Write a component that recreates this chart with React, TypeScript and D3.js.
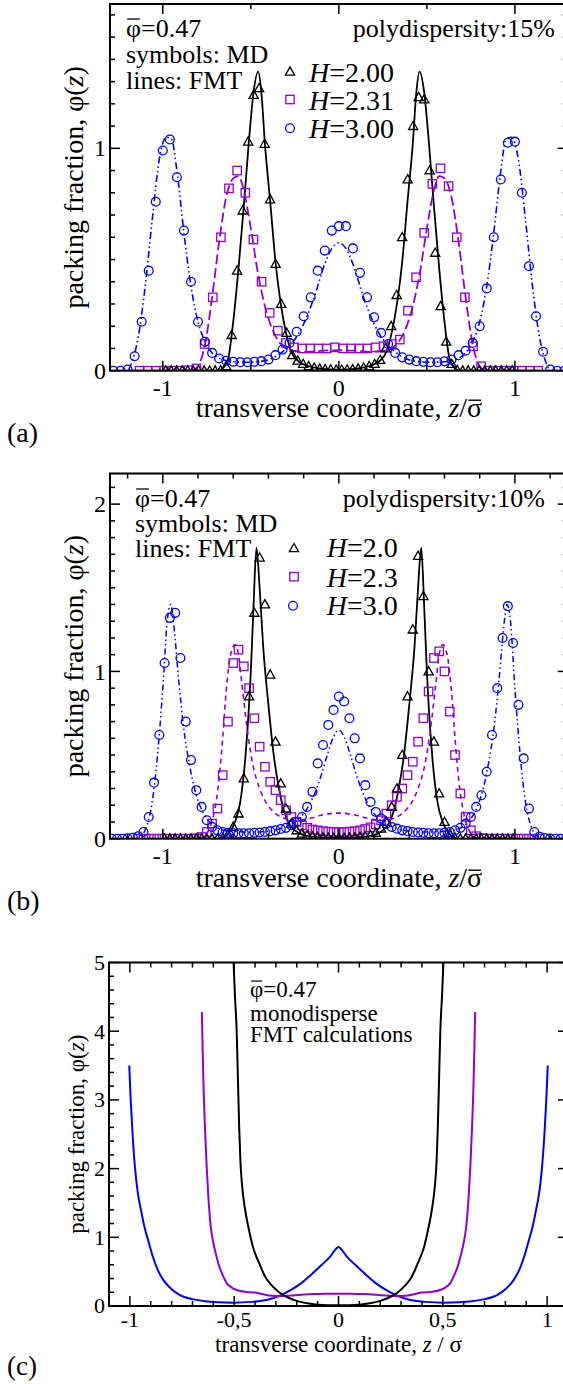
import React from "react";
import * as d3 from "d3";

type Pt = [number, number];

// ================= Panel (a): polydispersity 15 % =================
// MD histograms: bin start, bin width, values
const aTriStart = -0.984;
const aTriStep = 0.03125;
const aTriH200 = [
  0, 0, 0, 0, 0, 0, 0, 0, 0, 0,
  0.002, 0.02, 0.16, 0.45, 0.72, 1.03, 1.24, 1.27, 1.02, 0.77, 0.48, 0.3, 0.17, 0.07, 0.045, 0.03, 0.02, 0.013, 0.009, 0.006, 0.005, 0.004,
  0.004, 0.005, 0.006, 0.009, 0.013, 0.02, 0.03, 0.048, 0.1, 0.2, 0.34, 0.6, 0.86, 1.1, 1.23, 1.22, 0.9, 0.53, 0.29, 0.13, 0.03, 0.003,
  0, 0, 0, 0, 0, 0, 0, 0, 0, 0,
];
const aSqStart = -1.132;
const aSqStep = 0.0462;
const aSqH231 = [
  0, 0, 0, 0, 0, 0, 0.002, 0.01, 0.12, 0.33, 0.6, 0.82, 0.9, 0.8, 0.59, 0.4, 0.26, 0.18, 0.125, 0.105, 0.1, 0.1, 0.1, 0.1, 0.105,
  0.1, 0.1, 0.1, 0.1, 0.105, 0.11, 0.12, 0.14, 0.27, 0.42, 0.62, 0.84, 0.91, 0.83, 0.6, 0.33, 0.11, 0.02, 0, 0, 0, 0, 0, 0, 0,
];
const aCirStart = -1.28;
const aCirStep = 0.04;
const aCirH300 = [
  0, 0, 0.005, 0.065, 0.22, 0.45, 0.76, 0.99, 1.04, 0.87, 0.63, 0.4, 0.22, 0.13, 0.08, 0.055, 0.045, 0.04, 0.038, 0.038, 0.04, 0.043, 0.05,
  0.07, 0.095, 0.125, 0.175, 0.245, 0.33, 0.45, 0.54, 0.63, 0.65,
  0.65, 0.55, 0.44, 0.33, 0.24, 0.17, 0.12, 0.08, 0.06, 0.05, 0.043, 0.04, 0.038, 0.038, 0.042, 0.05, 0.07, 0.09, 0.125, 0.2, 0.37, 0.6,
  0.86, 1.025, 1.03, 0.8, 0.47, 0.245, 0.085, 0.005, 0, 0,
];
// FMT curves
const aLineH200: Pt[] = [
  [-1, 0], [-0.69, 0], [-0.66, 0.01], [-0.63, 0.05], [-0.6, 0.22], [-0.57, 0.46], [-0.54, 0.74], [-0.51, 1.04], [-0.485, 1.25],
  [-0.458, 1.345], [-0.44, 1.25], [-0.42, 1.02], [-0.39, 0.76], [-0.36, 0.49], [-0.33, 0.3], [-0.3, 0.17], [-0.27, 0.085],
  [-0.24, 0.05], [-0.21, 0.032], [-0.17, 0.02], [-0.12, 0.011], [-0.06, 0.006], [0, 0.005],
  [0.06, 0.006], [0.12, 0.011], [0.17, 0.02], [0.21, 0.032], [0.24, 0.05], [0.27, 0.085], [0.3, 0.17], [0.33, 0.3], [0.36, 0.49],
  [0.39, 0.76], [0.42, 1.02], [0.44, 1.25], [0.458, 1.345], [0.485, 1.25], [0.51, 1.04], [0.54, 0.74], [0.57, 0.46], [0.6, 0.22],
  [0.63, 0.05], [0.66, 0.01], [0.69, 0], [1, 0],
];
const aLineH231: Pt[] = [
  [-1.155, 0], [-0.84, 0], [-0.8, 0.02], [-0.76, 0.12], [-0.72, 0.33], [-0.68, 0.58], [-0.64, 0.78], [-0.6, 0.865], [-0.57, 0.875],
  [-0.54, 0.81], [-0.5, 0.64], [-0.46, 0.44], [-0.42, 0.29], [-0.38, 0.19], [-0.34, 0.13], [-0.3, 0.1], [-0.26, 0.09], [-0.18, 0.085],
  [-0.09, 0.09], [0, 0.092],
  [0.09, 0.09], [0.18, 0.085], [0.26, 0.09], [0.3, 0.1], [0.34, 0.13], [0.38, 0.19], [0.42, 0.29], [0.46, 0.44], [0.5, 0.64],
  [0.54, 0.81], [0.57, 0.875], [0.6, 0.865], [0.64, 0.78], [0.68, 0.58], [0.72, 0.33], [0.76, 0.12], [0.8, 0.02], [0.84, 0], [1.155, 0],
];
const aLineH300: Pt[] = [
  [-1.3, 0], [-1.2, 0], [-1.18, 0.03], [-1.14, 0.15], [-1.1, 0.38], [-1.06, 0.68], [-1.02, 0.95], [-0.98, 1.05], [-0.95, 1.04],
  [-0.92, 0.9], [-0.88, 0.62], [-0.84, 0.38], [-0.8, 0.22], [-0.76, 0.13], [-0.72, 0.08], [-0.66, 0.05], [-0.6, 0.04], [-0.52, 0.038],
  [-0.44, 0.042], [-0.38, 0.055], [-0.32, 0.085], [-0.26, 0.13], [-0.2, 0.21], [-0.14, 0.33], [-0.08, 0.48], [-0.04, 0.55], [0, 0.575],
  [0.04, 0.55], [0.08, 0.48], [0.14, 0.33], [0.2, 0.21], [0.26, 0.13], [0.32, 0.085], [0.38, 0.055], [0.44, 0.042], [0.52, 0.038],
  [0.6, 0.04], [0.66, 0.05], [0.72, 0.08], [0.76, 0.13], [0.8, 0.22], [0.84, 0.38], [0.88, 0.62], [0.92, 0.9], [0.95, 1.04],
  [0.98, 1.05], [1.02, 0.95], [1.06, 0.68], [1.1, 0.38], [1.14, 0.15], [1.18, 0.03], [1.2, 0], [1.3, 0],
];
const aLegend = ["2.00", "2.31", "3.00"];

// ================= Panel (b): polydispersity 10 % =================
const bTriStart = -0.99;
const bTriStep = 0.03;
const bTriH20 = [
  0, 0, 0, 0, 0, 0, 0, 0, 0, 0, 0,
  0.003, 0.025, 0.07, 0.15, 0.36, 0.85, 1.35, 1.68, 1.4, 0.98, 0.58, 0.33, 0.18, 0.09, 0.05, 0.03, 0.02, 0.013, 0.009, 0.006, 0.005, 0.004, 0.004,
  0.004, 0.005, 0.006, 0.009, 0.013, 0.02, 0.035, 0.06, 0.1, 0.19, 0.3, 0.5, 0.85, 1.25, 1.69, 1.45, 1.0, 0.58, 0.27, 0.1, 0.03, 0.005,
  0, 0, 0, 0, 0, 0, 0, 0, 0, 0, 0,
];
const bSqStart = -1.14;
const bSqStep = 0.03;
const bSqH23 = [
  0, 0, 0, 0, 0, 0, 0, 0, 0, 0, 0,
  0.002, 0.01, 0.04, 0.09, 0.18, 0.38, 0.7, 1.05, 1.13, 1.03, 0.9, 0.72, 0.55, 0.43, 0.34, 0.29, 0.23, 0.17, 0.13, 0.1, 0.08, 0.065,
  0.055, 0.05, 0.045, 0.042, 0.04, 0.04,
  0.04, 0.042, 0.045, 0.05, 0.058, 0.068, 0.085, 0.11, 0.15, 0.2, 0.25, 0.3, 0.38, 0.46, 0.58, 0.72, 0.88, 1.08, 1.12, 1.0, 0.76,
  0.5, 0.27, 0.13, 0.05, 0.015, 0.003,
  0, 0, 0, 0, 0, 0, 0, 0, 0, 0, 0,
];
const bCirStart = -1.29;
const bCirStep = 0.03;
const bCirH30 = [
  0, 0, 0, 0.002, 0.005, 0.015, 0.04, 0.13, 0.335, 0.62, 1.05, 1.32, 1.35, 1.08, 0.7, 0.47, 0.29, 0.19, 0.11, 0.07, 0.05, 0.04,
  0.035, 0.033, 0.032, 0.032, 0.033, 0.035, 0.037, 0.04, 0.045, 0.05, 0.058, 0.065, 0.08, 0.1, 0.13, 0.19, 0.28, 0.45, 0.56,
  0.68, 0.77, 0.85,
  0.82, 0.72, 0.6, 0.48, 0.32, 0.22, 0.16, 0.12, 0.09, 0.07, 0.06, 0.05, 0.045, 0.04, 0.037, 0.035, 0.033, 0.032, 0.033, 0.035,
  0.04, 0.05, 0.065, 0.09, 0.13, 0.19, 0.26, 0.4, 0.62, 0.9, 1.2, 1.39, 1.17, 0.8, 0.48, 0.18, 0.04, 0.012, 0.004, 0.001, 0, 0, 0,
];
const bLineH20: Pt[] = [
  [-1, 0], [-0.68, 0], [-0.65, 0.01], [-0.62, 0.04], [-0.59, 0.1], [-0.56, 0.22], [-0.53, 0.5], [-0.5, 1.0], [-0.485, 1.38],
  [-0.468, 1.74], [-0.45, 1.5], [-0.43, 1.15], [-0.4, 0.8], [-0.37, 0.5], [-0.34, 0.3], [-0.31, 0.16], [-0.28, 0.085],
  [-0.25, 0.05], [-0.2, 0.022], [-0.1, 0.008], [0, 0.006],
  [0.1, 0.008], [0.2, 0.022], [0.25, 0.05], [0.28, 0.085], [0.31, 0.16], [0.34, 0.3], [0.37, 0.5], [0.4, 0.8], [0.43, 1.15],
  [0.45, 1.5], [0.468, 1.74], [0.485, 1.38], [0.5, 1.0], [0.53, 0.5], [0.56, 0.22], [0.59, 0.1], [0.62, 0.04], [0.65, 0.01],
  [0.68, 0], [1, 0],
];
const bLineH23: Pt[] = [
  [-1.15, 0], [-0.8, 0], [-0.77, 0.01], [-0.74, 0.05], [-0.71, 0.15], [-0.68, 0.36], [-0.66, 0.6], [-0.64, 0.88], [-0.615, 1.1],
  [-0.59, 1.16], [-0.57, 1.1], [-0.55, 0.92], [-0.52, 0.65], [-0.49, 0.45], [-0.45, 0.3], [-0.41, 0.21], [-0.37, 0.16],
  [-0.33, 0.13], [-0.29, 0.115], [-0.25, 0.11], [-0.2, 0.115], [-0.15, 0.125], [-0.1, 0.14], [-0.05, 0.15], [0, 0.153],
  [0.05, 0.15], [0.1, 0.14], [0.15, 0.125], [0.2, 0.115], [0.25, 0.11], [0.29, 0.115], [0.33, 0.13], [0.37, 0.16], [0.41, 0.21],
  [0.45, 0.3], [0.49, 0.45], [0.52, 0.65], [0.55, 0.92], [0.57, 1.1], [0.59, 1.16], [0.615, 1.1], [0.64, 0.88], [0.66, 0.6],
  [0.68, 0.36], [0.71, 0.15], [0.74, 0.05], [0.77, 0.01], [0.8, 0], [1.15, 0],
];
const bLineH30: Pt[] = [
  [-1.3, 0], [-1.16, 0], [-1.12, 0.02], [-1.09, 0.08], [-1.06, 0.22], [-1.03, 0.5], [-1.0, 0.9], [-0.975, 1.3], [-0.955, 1.4],
  [-0.94, 1.3], [-0.91, 0.95], [-0.88, 0.65], [-0.85, 0.45], [-0.82, 0.3], [-0.79, 0.2], [-0.75, 0.12], [-0.7, 0.07],
  [-0.62, 0.045], [-0.5, 0.04], [-0.4, 0.045], [-0.32, 0.065], [-0.26, 0.09], [-0.2, 0.15], [-0.15, 0.24], [-0.1, 0.38],
  [-0.06, 0.52], [-0.03, 0.61], [0, 0.65],
  [0.03, 0.61], [0.06, 0.52], [0.1, 0.38], [0.15, 0.24], [0.2, 0.15], [0.26, 0.09], [0.32, 0.065], [0.4, 0.045], [0.5, 0.04],
  [0.62, 0.045], [0.7, 0.07], [0.75, 0.12], [0.79, 0.2], [0.82, 0.3], [0.85, 0.45], [0.88, 0.65], [0.91, 0.95], [0.94, 1.3],
  [0.955, 1.4], [0.975, 1.3], [1.0, 0.9], [1.03, 0.5], [1.06, 0.22], [1.09, 0.08], [1.12, 0.02], [1.16, 0], [1.3, 0],
];
const bLegend = ["2.0", "2.3", "3.0"];

// ================= Panel (c): monodisperse FMT =================
const cLineH200: Pt[] = [
  [-0.509, 5.5], [-0.503, 5.0], [-0.496, 4.5], [-0.488, 4.0], [-0.482, 3.3], [-0.476, 2.6], [-0.47, 2.1], [-0.462, 1.75],
  [-0.45, 1.45], [-0.43, 1.12], [-0.41, 0.86], [-0.38, 0.62], [-0.35, 0.42], [-0.32, 0.3], [-0.28, 0.19], [-0.24, 0.12],
  [-0.2, 0.075], [-0.15, 0.04], [-0.1, 0.02], [-0.05, 0.012], [0, 0.01],
  [0.05, 0.012], [0.1, 0.02], [0.15, 0.04], [0.2, 0.075], [0.24, 0.12], [0.28, 0.19], [0.32, 0.3], [0.35, 0.42], [0.38, 0.62],
  [0.41, 0.86], [0.43, 1.12], [0.45, 1.45], [0.462, 1.75], [0.47, 2.1], [0.476, 2.6], [0.482, 3.3], [0.488, 4.0], [0.496, 4.5],
  [0.503, 5.0], [0.509, 5.5],
];
const cLineH231: Pt[] = [
  [-0.655, 4.28], [-0.651, 3.7], [-0.646, 3.1], [-0.64, 2.6], [-0.633, 2.1], [-0.624, 1.6], [-0.612, 1.15], [-0.6, 0.92],
  [-0.588, 0.76], [-0.572, 0.58], [-0.555, 0.45], [-0.535, 0.33], [-0.51, 0.265], [-0.48, 0.225], [-0.44, 0.205], [-0.4, 0.195],
  [-0.36, 0.17], [-0.32, 0.15], [-0.28, 0.145], [-0.24, 0.15], [-0.18, 0.163], [-0.12, 0.173], [-0.06, 0.178], [0, 0.18],
  [0.06, 0.178], [0.12, 0.173], [0.18, 0.163], [0.24, 0.15], [0.28, 0.145], [0.32, 0.15], [0.36, 0.17], [0.4, 0.195],
  [0.44, 0.205], [0.48, 0.225], [0.51, 0.265], [0.535, 0.33], [0.555, 0.45], [0.572, 0.58], [0.588, 0.76], [0.6, 0.92],
  [0.612, 1.15], [0.624, 1.6], [0.633, 2.1], [0.64, 2.6], [0.646, 3.1], [0.651, 3.7], [0.655, 4.28],
];
const cLineH300: Pt[] = [
  [-1.003, 3.5], [-0.996, 3.0], [-0.987, 2.5], [-0.975, 2.0], [-0.962, 1.65], [-0.947, 1.4], [-0.93, 1.15], [-0.91, 0.93],
  [-0.89, 0.72], [-0.87, 0.55], [-0.84, 0.38], [-0.8, 0.245], [-0.76, 0.16], [-0.7, 0.1], [-0.64, 0.07], [-0.58, 0.055],
  [-0.5, 0.048], [-0.42, 0.06], [-0.34, 0.09], [-0.28, 0.15], [-0.23, 0.23], [-0.18, 0.33], [-0.13, 0.46], [-0.08, 0.6],
  [-0.04, 0.72], [-0.015, 0.82], [0, 0.86],
  [0.015, 0.82], [0.04, 0.72], [0.08, 0.6], [0.13, 0.46], [0.18, 0.33], [0.23, 0.23], [0.28, 0.15], [0.34, 0.09], [0.42, 0.06],
  [0.5, 0.048], [0.58, 0.055], [0.64, 0.07], [0.7, 0.1], [0.76, 0.16], [0.8, 0.245], [0.84, 0.38], [0.87, 0.55], [0.89, 0.72],
  [0.91, 0.93], [0.93, 1.15], [0.947, 1.4], [0.962, 1.65], [0.975, 2.0], [0.987, 2.5], [0.996, 3.0], [1.003, 3.5],
];

// ================= Ticks =================
const abXTicks = [-1, 0, 1];
const abXTickLabels = ["-1", "0", "1"];
const aYTicks = [0, 1];
const aYTickLabels = ["0", "1"];
const bYTicks = [0, 1, 2];
const bYTickLabels = ["0", "1", "2"];
const cXTicks = [-1, -0.5, 0, 0.5, 1];
const cXTickLabels = ["-1", "-0,5", "0", "0,5", "1"];
const cYTicks = [0, 1, 2, 3, 4, 5];
const cYTickLabels = ["0", "1", "2", "3", "4", "5"];

const FONT = '"Liberation Serif", "Times New Roman", Tinos, "Nimbus Roman", "DejaVu Serif", serif';
const FS: React.CSSProperties = { fontFamily: FONT };
const BLACK = "#000000";
const VIOLET = "#9400d3";
const BLUE = "#0000ff";

interface PanelCfg {
  id: string;
  left: number;
  right: number;
  top: number;
  bottom: number;
  xDom: [number, number];
  yDom: [number, number];
  xMajor: number[];
  xLabels: string[];
  xMinorStep: number;
  yMajor: number[];
  yLabels: string[];
  yMinorStep: number;
  tickFont: number;
  xLabelBaseline: number;
}

function minorTicks(dom: [number, number], step: number, majors: number[]) {
  const n0 = Math.ceil(dom[0] / step - 1e-6);
  const n1 = Math.floor(dom[1] / step + 1e-6);
  const out: number[] = [];
  for (let k = n0; k <= n1; k++) {
    const v = k * step;
    if (!majors.some((m) => Math.abs(m - v) < 1e-6)) out.push(v);
  }
  return out;
}

function Axes({ cfg, xs, ys }: { cfg: PanelCfg; xs: d3.ScaleLinear<number, number>; ys: d3.ScaleLinear<number, number> }) {
  const majorLen = 10;
  const minorLen = 5;
  const els: React.ReactNode[] = [];
  const xMin = minorTicks(cfg.xDom, cfg.xMinorStep, cfg.xMajor);
  const yMin = minorTicks(cfg.yDom, cfg.yMinorStep, cfg.yMajor);
  cfg.xMajor.forEach((v, i) => {
    const p = xs(v);
    els.push(<line key={"xM" + i} x1={p} x2={p} y1={cfg.bottom} y2={cfg.bottom - majorLen} />);
    els.push(<line key={"xMt" + i} x1={p} x2={p} y1={cfg.top} y2={cfg.top + majorLen} />);
  });
  xMin.forEach((v, i) => {
    const p = xs(v);
    els.push(<line key={"xm" + i} x1={p} x2={p} y1={cfg.bottom} y2={cfg.bottom - minorLen} />);
    els.push(<line key={"xmt" + i} x1={p} x2={p} y1={cfg.top} y2={cfg.top + minorLen} />);
  });
  cfg.yMajor.forEach((v, i) => {
    const p = ys(v);
    els.push(<line key={"yM" + i} x1={cfg.left} x2={cfg.left + majorLen} y1={p} y2={p} />);
    els.push(<line key={"yMr" + i} x1={cfg.right} x2={cfg.right - majorLen} y1={p} y2={p} />);
  });
  yMin.forEach((v, i) => {
    const p = ys(v);
    els.push(<line key={"ym" + i} x1={cfg.left} x2={cfg.left + minorLen} y1={p} y2={p} />);
    els.push(<line key={"ymr" + i} x1={cfg.right} x2={cfg.right - minorLen} y1={p} y2={p} />);
  });
  return (
    <g>
      <g stroke={BLACK} strokeWidth={1.5}>{els}</g>
      <rect x={cfg.left} y={cfg.top} width={cfg.right - cfg.left} height={cfg.bottom - cfg.top} fill="none" stroke={BLACK} strokeWidth={2} />
      <g style={FS} fontSize={cfg.tickFont} fill={BLACK}>
        {cfg.xMajor.map((v, i) => (
          <text key={"xl" + i} x={xs(v)} y={cfg.xLabelBaseline} textAnchor="middle">
            {cfg.xLabels[i]}
          </text>
        ))}
        {cfg.yMajor.map((v, i) => (
          <text key={"yl" + i} x={cfg.left - 4} y={ys(v)} dy="0.34em" textAnchor="end">
            {cfg.yLabels[i]}
          </text>
        ))}
      </g>
    </g>
  );
}

function toPts(start: number, step: number, vals: number[]): Pt[] {
  return vals.map((v, i) => [start + i * step, v] as Pt);
}

function Tri({ x, y }: { x: number; y: number }) {
  return <path d={`M${x},${y - 4.8}L${x + 4.6},${y + 3.4}L${x - 4.6},${y + 3.4}Z`} />;
}
function Sq({ x, y }: { x: number; y: number }) {
  return <rect x={x - 4.2} y={y - 4.2} width={8.4} height={8.4} />;
}
function Cir({ x, y }: { x: number; y: number }) {
  return <circle cx={x} cy={y} r={4.4} />;
}

function Markers({ pts, xs, ys, color, kind }: { pts: Pt[]; xs: any; ys: any; color: string; kind: string }) {
  return (
    <g fill="none" stroke={color} strokeWidth={1.3}>
      {pts
        .filter((p) => p[0] >= xs.domain()[0] - 0.03 && p[0] <= xs.domain()[1] + 0.03)
        .map((p, i) => {
          const X = xs(p[0]);
          const Y = ys(p[1]);
          if (kind === "tri") return <Tri key={i} x={X} y={Y} />;
          if (kind === "sq") return <Sq key={i} x={X} y={Y} />;
          return <Cir key={i} x={X} y={Y} />;
        })}
    </g>
  );
}

function Curve({ pts, xs, ys, color, dash, width }: { pts: Pt[]; xs: any; ys: any; color: string; dash?: string; width: number }) {
  const gen = d3
    .line<Pt>()
    .x((d) => xs(d[0]))
    .y((d) => ys(d[1]))
    .curve(d3.curveMonotoneX);
  return <path d={gen(pts) || ""} fill="none" stroke={color} strokeWidth={width} strokeDasharray={dash} strokeLinejoin="round" />;
}

// Text with an overbar drawn above its first or last character
function BarText({
  x,
  y,
  fontSize,
  anchor,
  which,
  rise,
  children,
}: {
  x: number;
  y: number;
  fontSize: number;
  anchor?: string;
  which: "first" | "last";
  rise: number;
  children: React.ReactNode;
}) {
  const ref = React.useRef<SVGTextElement>(null);
  const [bar, setBar] = React.useState<null | { x1: number; x2: number }>(null);
  React.useLayoutEffect(() => {
    const el = ref.current;
    if (!el) return;
    const n = el.getNumberOfChars();
    const idx = which === "first" ? 0 : n - 1;
    const r = el.getExtentOfChar(idx);
    setBar({ x1: r.x + r.width * 0.08, x2: r.x + r.width * 0.92 });
  }, []);
  return (
    <g>
      <text ref={ref} x={x} y={y} fontSize={fontSize} textAnchor={anchor} style={FS}>
        {children}
      </text>
      {bar && (
        <line x1={bar.x1} x2={bar.x2} y1={y - rise * fontSize} y2={y - rise * fontSize} stroke={BLACK} strokeWidth={Math.max(1.2, fontSize * 0.05)} />
      )}
    </g>
  );
}

const cfgA: PanelCfg = {
  id: "a",
  left: 110,
  right: 567.7,
  top: 4,
  bottom: 370.7,
  xDom: [-1.3, 1.3],
  yDom: [0, 1.649],
  xMajor: abXTicks,
  xLabels: abXTickLabels,
  xMinorStep: 0.5,
  yMajor: aYTicks,
  yLabels: aYTickLabels,
  yMinorStep: 0.1,
  tickFont: 24,
  xLabelBaseline: 396,
};
const cfgB: PanelCfg = {
  id: "b",
  left: 110,
  right: 567.7,
  top: 473.5,
  bottom: 838.7,
  xDom: [-1.3, 1.3],
  yDom: [0, 2.183],
  xMajor: abXTicks,
  xLabels: abXTickLabels,
  xMinorStep: 0.2,
  yMajor: bYTicks,
  yLabels: bYTickLabels,
  yMinorStep: 0.1,
  tickFont: 24,
  xLabelBaseline: 864,
};
const cfgC: PanelCfg = {
  id: "c",
  left: 109,
  right: 568,
  top: 962.5,
  bottom: 1306,
  xDom: [-1.1, 1.1],
  yDom: [0, 5],
  xMajor: cXTicks,
  xLabels: cXTickLabels,
  xMinorStep: 0.1,
  yMajor: cYTicks,
  yLabels: cYTickLabels,
  yMinorStep: 0.2,
  tickFont: 22,
  xLabelBaseline: 1327,
};

function scales(cfg: PanelCfg) {
  const xs = d3.scaleLinear().domain(cfg.xDom).range([cfg.left, cfg.right]);
  const ys = d3.scaleLinear().domain(cfg.yDom).range([cfg.bottom, cfg.top]);
  return { xs, ys };
}

function ClipDef({ cfg }: { cfg: PanelCfg }) {
  return (
    <clipPath id={"clip-" + cfg.id}>
      <rect x={cfg.left} y={cfg.top} width={cfg.right - cfg.left} height={cfg.bottom - cfg.top} />
    </clipPath>
  );
}

export default function App() {
  const A = scales(cfgA);
  const B = scales(cfgB);
  const C = scales(cfgC);
  const legendKinds = ["tri", "sq", "cir"];
  const legendColors = [BLACK, VIOLET, BLUE];

  return (
    <svg width={563} height={1384} style={{ position: "absolute", left: 0, top: 0, background: "#fff", fontFamily: FONT }}>
      <defs>
        <ClipDef cfg={cfgA} />
        <ClipDef cfg={cfgB} />
        <ClipDef cfg={cfgC} />
      </defs>
      <rect x={0} y={0} width={563} height={1384} fill="#fff" />

      {/* ================= Panel (a) ================= */}
      <g clipPath="url(#clip-a)">
        <Curve pts={aLineH200} xs={A.xs} ys={A.ys} color={BLACK} width={1.8} />
        <Curve pts={aLineH231} xs={A.xs} ys={A.ys} color={VIOLET} width={1.8} dash="10,4" />
        <Curve pts={aLineH300} xs={A.xs} ys={A.ys} color={BLUE} width={1.6} dash="7,3,1.5,3,1.5,3" />
        <Markers pts={toPts(aSqStart, aSqStep, aSqH231)} xs={A.xs} ys={A.ys} color={VIOLET} kind="sq" />
        <Markers pts={toPts(aTriStart, aTriStep, aTriH200)} xs={A.xs} ys={A.ys} color={BLACK} kind="tri" />
        <Markers pts={toPts(aCirStart, aCirStep, aCirH300)} xs={A.xs} ys={A.ys} color={BLUE} kind="cir" />
      </g>
      <Axes cfg={cfgA} xs={A.xs} ys={A.ys} />
      <BarText x={126} y={36.7} fontSize={26} which="first" rise={0.68}>
        φ=0.47
      </BarText>
      <g fontSize={26} fill={BLACK} style={FS}>
        <text x={126} y={63}>symbols: MD</text>
        <text x={126} y={88.5}>lines: FMT</text>
        <text x={555} y={36.7} textAnchor="end">polydispersity:15%</text>
      </g>
      {aLegend.map((lab, i) => {
        const my = [71.7, 99.5, 128.3][i];
        const ty = [81.7, 110, 138.3][i];
        return (
          <g key={"la" + i}>
            <g fill="none" stroke={legendColors[i]} strokeWidth={1.3}>
              {legendKinds[i] === "tri" ? <Tri x={290} y={my} /> : legendKinds[i] === "sq" ? <Sq x={290} y={my} /> : <Cir x={290} y={my} />}
            </g>
            <text x={309} y={ty} fontSize={28} style={FS}>
              <tspan fontStyle="italic">H</tspan>={lab}
            </text>
          </g>
        );
      })}
      <BarText x={339} y={417} fontSize={28} anchor="middle" which="last" rise={0.6}>
        transverse coordinate, <tspan fontStyle="italic">z</tspan>/σ
      </BarText>
      <text transform={`translate(83, ${(cfgA.top + cfgA.bottom) / 2}) rotate(-90)`} fontSize={28} textAnchor="middle" style={FS}>
        packing fraction, φ(<tspan fontStyle="italic">z</tspan>)
      </text>
      <text x={7} y={442} fontSize={28} style={FS}>(a)</text>

      {/* ================= Panel (b) ================= */}
      <g clipPath="url(#clip-b)">
        <Curve pts={bLineH20} xs={B.xs} ys={B.ys} color={BLACK} width={1.8} />
        <Curve pts={bLineH23} xs={B.xs} ys={B.ys} color={VIOLET} width={1.6} dash="5,4" />
        <Curve pts={bLineH30} xs={B.xs} ys={B.ys} color={BLUE} width={1.5} dash="6,3,1.5,3,1.5,3" />
        <Markers pts={toPts(bSqStart, bSqStep, bSqH23)} xs={B.xs} ys={B.ys} color={VIOLET} kind="sq" />
        <Markers pts={toPts(bTriStart, bTriStep, bTriH20)} xs={B.xs} ys={B.ys} color={BLACK} kind="tri" />
        <Markers pts={toPts(bCirStart, bCirStep, bCirH30)} xs={B.xs} ys={B.ys} color={BLUE} kind="cir" />
      </g>
      <Axes cfg={cfgB} xs={B.xs} ys={B.ys} />
      <BarText x={135} y={506.7} fontSize={26} which="first" rise={0.68}>
        φ=0.47
      </BarText>
      <g fontSize={26} fill={BLACK} style={FS}>
        <text x={135} y={531.7}>symbols: MD</text>
        <text x={135} y={557}>lines: FMT</text>
        <text x={545} y={506.7} textAnchor="end">polydispersity:10%</text>
      </g>
      {bLegend.map((lab, i) => {
        const my = [548.3, 576.7, 605.7][i];
        const ty = [557.3, 586.7, 615][i];
        return (
          <g key={"lb" + i}>
            <g fill="none" stroke={legendColors[i]} strokeWidth={1.3}>
              {legendKinds[i] === "tri" ? <Tri x={294} y={my} /> : legendKinds[i] === "sq" ? <Sq x={294} y={my} /> : <Cir x={293} y={my} />}
            </g>
            <text x={326.7} y={ty} fontSize={28} style={FS}>
              <tspan fontStyle="italic">H</tspan>={lab}
            </text>
          </g>
        );
      })}
      <BarText x={339} y={887} fontSize={28} anchor="middle" which="last" rise={0.6}>
        transverse coordinate, <tspan fontStyle="italic">z</tspan>/σ
      </BarText>
      <text transform={`translate(83, ${(cfgB.top + cfgB.bottom) / 2}) rotate(-90)`} fontSize={28} textAnchor="middle" style={FS}>
        packing fraction, φ(<tspan fontStyle="italic">z</tspan>)
      </text>
      <text x={7} y={910} fontSize={28} style={FS}>(b)</text>

      {/* ================= Panel (c) ================= */}
      <g clipPath="url(#clip-c)">
        <Curve pts={cLineH300} xs={C.xs} ys={C.ys} color={BLUE} width={2} />
        <Curve pts={cLineH231} xs={C.xs} ys={C.ys} color={VIOLET} width={2} />
        <Curve pts={cLineH200} xs={C.xs} ys={C.ys} color={BLACK} width={2} />
      </g>
      <Axes cfg={cfgC} xs={C.xs} ys={C.ys} />
      <BarText x={250} y={996.7} fontSize={23} which="first" rise={0.68}>
        φ=0.47
      </BarText>
      <g fontSize={23} fill={BLACK} style={FS}>
        <text x={250} y={1020.7}>monodisperse</text>
        <text x={250} y={1041.7}>FMT calculations</text>
      </g>
      <text x={338.5} y={1352} fontSize={23} textAnchor="middle" style={FS}>
        transverse coordinate, <tspan fontStyle="italic">z</tspan> / σ
      </text>
      <text transform={`translate(84, ${(cfgC.top + cfgC.bottom) / 2}) rotate(-90)`} fontSize={23} textAnchor="middle" style={FS}>
        packing fraction, φ(<tspan fontStyle="italic">z</tspan>)
      </text>
      <text x={7} y={1375} fontSize={27} style={FS}>(c)</text>
    </svg>
  );
}
